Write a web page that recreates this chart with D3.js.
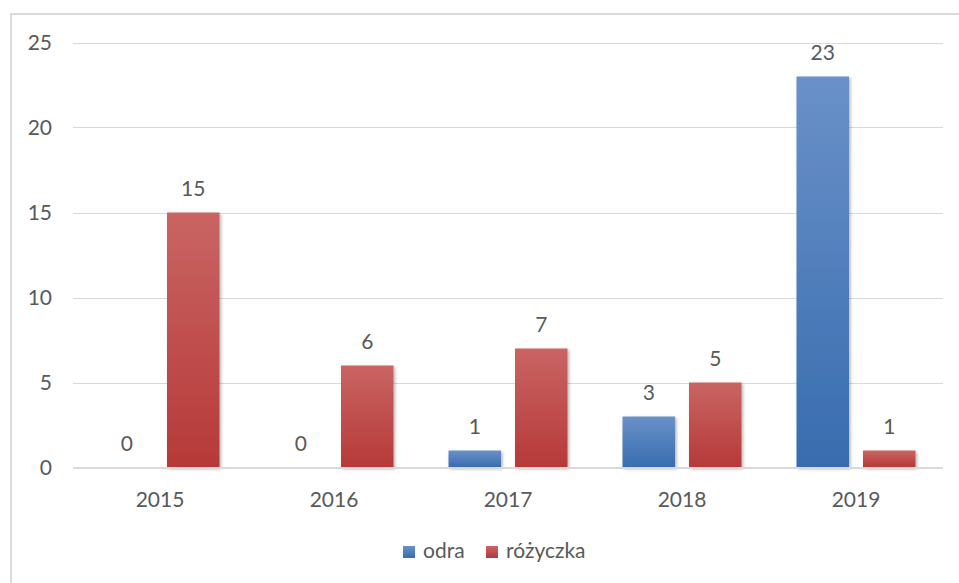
<!DOCTYPE html>
<html>
  <head>
    <meta charset="UTF-8">
    <script src="https://cdn.jsdelivr.net/npm/d3@7"></script>
    <style>
      body { margin: 0; background: #fff; }
      text { font-family: Lato, "Liberation Sans", sans-serif; fill: #595959; }
    </style>
  </head>
  <body>
    <svg width="959" height="583"></svg>

    <script type="text/javascript">
      // Data
      var years = ['2015', '2016', '2017', '2018', '2019'];
      var odra = [0, 0, 1, 3, 23];
      var rozyczka = [15, 6, 7, 5, 1];
      var seriesNames = ['odra', 'różyczka'];
      var yTicks = [0, 5, 10, 15, 20, 25];

      var svg = d3.select('svg');

      // chart frame (left + top only visible)
      svg.append('path')
        .attr('d', 'M11,583 L11,14 L959,14')
        .attr('fill', 'none')
        .attr('stroke', '#d9d9d9')
        .attr('stroke-width', 2);

      // gradients
      var defs = svg.append('defs');
      var grads = [
        { id: 'gBlue', top: '#6a91c8', bottom: '#386caf' },
        { id: 'gRed', top: '#c96563', bottom: '#b63938' }
      ];
      grads.forEach(function(g) {
        var lg = defs.append('linearGradient')
          .attr('id', g.id)
          .attr('x1', 0).attr('y1', 0).attr('x2', 0).attr('y2', 1);
        lg.append('stop').attr('offset', '0%').attr('stop-color', g.top);
        lg.append('stop').attr('offset', '100%').attr('stop-color', g.bottom);
      });
      var shadow = defs.append('filter').attr('id', 'shadow')
        .attr('x', '-20%').attr('y', '-20%').attr('width', '140%').attr('height', '140%');
      shadow.append('feDropShadow')
        .attr('dx', 1.5).attr('dy', 1.5).attr('stdDeviation', 1.5)
        .attr('flood-color', '#000').attr('flood-opacity', 0.3);

      // Scales
      var x = d3.scaleBand().domain(years).range([73, 943]);
      var y = d3.scaleLinear().domain([0, 25]).range([467.5, 42.5]);
      var barW = 52.5, gap = 14;
      var xs = d3.scaleOrdinal().domain(seriesNames)
        .range([-(barW + gap / 2), gap / 2]);

      // grid lines
      svg.append('g').selectAll('line').data(yTicks.slice(1)).enter()
        .append('line')
        .attr('x1', 73).attr('x2', 943)
        .attr('y1', function(d) { return Math.round(y(d)) + 0.5; })
        .attr('y2', function(d) { return Math.round(y(d)) + 0.5; })
        .attr('stroke', '#d9d9d9')
        .attr('stroke-width', 1.2);

      // y axis labels
      svg.append('g').selectAll('text').data(yTicks).enter()
        .append('text')
        .attr('x', 52)
        .attr('y', function(d) { return y(d); })
        .attr('dy', '0.36em')
        .attr('text-anchor', 'end')
        .style('font-size', '21px')
        .text(function(d) { return d; });

      // bars
      var series = [
        { name: 'odra', values: odra, fill: 'url(#gBlue)' },
        { name: 'różyczka', values: rozyczka, fill: 'url(#gRed)' }
      ];
      series.forEach(function(s) {
        var g = svg.append('g');
        var pts = s.values.map(function(v, i) { return { year: years[i], value: v }; });
        var cx = function(d) { return x(d.year) + x.bandwidth() / 2 + xs(s.name); };
        g.selectAll('rect').data(pts.filter(function(d) { return d.value > 0; })).enter()
          .append('rect')
          .attr('x', cx)
          .attr('y', function(d) { return y(d.value); })
          .attr('width', barW)
          .attr('height', function(d) { return y(0) - y(d.value); })
          .attr('fill', s.fill)
          .attr('filter', 'url(#shadow)');
        g.selectAll('text').data(pts).enter()
          .append('text')
          .attr('x', function(d) { return cx(d) + barW / 2; })
          .attr('y', function(d) { return y(d.value) - 17; })
          .attr('text-anchor', 'middle')
          .style('font-size', '21px')
          .text(function(d) { return d.value; });
      });

      // zero axis line
      svg.append('line')
        .attr('x1', 73).attr('x2', 943)
        .attr('y1', y(0) + 0.5).attr('y2', y(0) + 0.5)
        .attr('stroke', '#d9d9d9')
        .attr('stroke-width', 2);

      // x axis labels
      svg.append('g').selectAll('text').data(years).enter()
        .append('text')
        .attr('x', function(d) { return x(d) + x.bandwidth() / 2; })
        .attr('y', 507)
        .attr('text-anchor', 'middle')
        .style('font-size', '21px')
        .text(function(d) { return d; });

      // legend
      var legendX = [403, 486];
      var legend = svg.append('g').selectAll('g').data(series).enter()
        .append('g')
        .attr('transform', function(d, i) { return 'translate(' + legendX[i] + ',546)'; });
      legend.append('rect')
        .attr('width', 12).attr('height', 12)
        .attr('fill', function(d) { return d.fill; });
      legend.append('text')
        .attr('x', 20).attr('y', 12)
        .style('font-size', '21px')
        .text(function(d) { return d.name; });
    </script>
  </body>
</html>
